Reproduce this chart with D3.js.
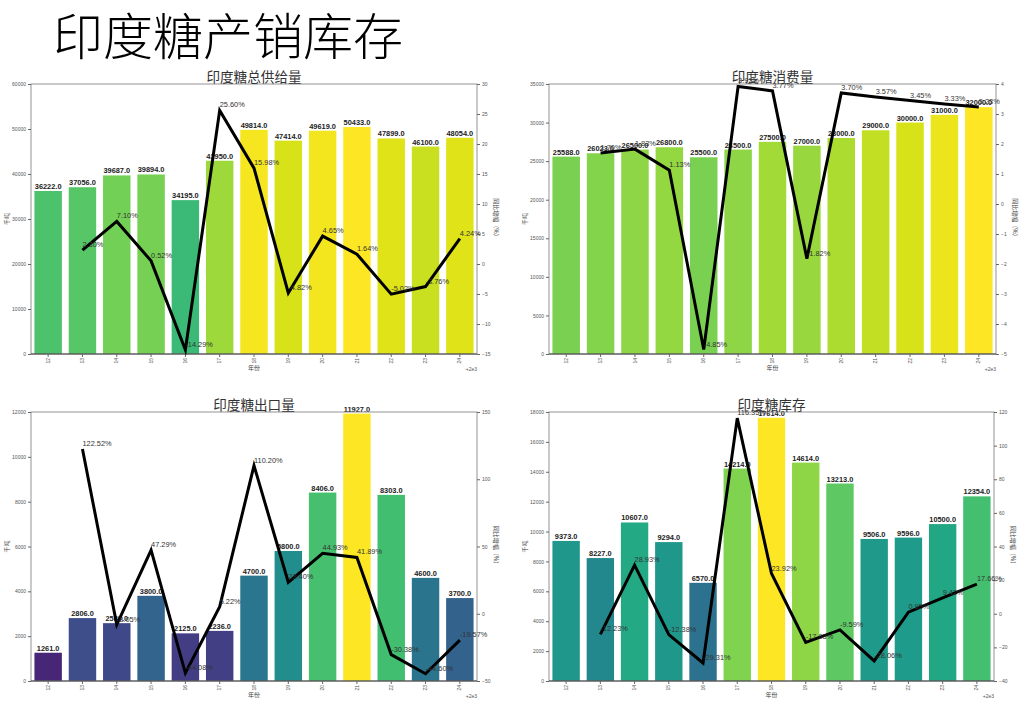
<!DOCTYPE html>
<html>
<head>
<meta charset="utf-8">
<script src="https://cdn.jsdelivr.net/npm/d3@7/dist/d3.min.js"></script>
<style>
  body { margin: 0; background: #fff; }
  svg { display: block; }
  .num { font-family: "Liberation Sans", Arial, sans-serif; }
  .cjk { font-family: "Noto Sans CJK SC", sans-serif; }
</style>
</head>
<body>
<div id="chart"></div>
<script>
// years 2012..2024, ticks shown as offset from 2e3
var yearTicks = ["12","13","14","15","16","17","18","19","20","21","22","23","24"];

var supplyVals = [36222, 37056, 39687, 39894, 34195, 42950, 49814, 47414, 49619, 50433, 47899, 46100, 48054];
var supplyPct  = [null, 2.30, 7.10, 0.52, -14.29, 25.60, 15.98, -4.82, 4.65, 1.64, -5.02, -3.76, 4.24];

var consumeVals = [25588, 26023, 26500, 26800, 25500, 26500, 27500, 27000, 28000, 29000, 30000, 31000, 32000];
var consumePct  = [null, 1.70, 1.83, 1.13, -4.85, 3.92, 3.77, -1.82, 3.70, 3.57, 3.45, 3.33, 3.23];

var exportVals = [1261, 2806, 2580, 3800, 2125, 2236, 4700, 5800, 8406, 11927, 8303, 4600, 3700];
var exportPct  = [null, 122.52, -8.05, 47.29, -44.08, 5.22, 110.20, 23.40, 44.93, 41.89, -30.38, -44.60, -19.57];

var stockVals = [9373, 8227, 10607, 9294, 6570, 14214, 17614, 14614, 13213, 9506, 9596, 10500, 12354];
var stockPct  = [null, -12.23, 28.93, -12.38, -29.31, 116.35, 23.92, -17.03, -9.59, -28.06, 0.95, 9.42, 17.66];

var panels = [
  {title: "印度糖总供给量", vals: supplyVals, pct: supplyPct, x0: 31, x1: 477, y0: 84, y1: 354,
   left: [0, 60000, 10000], right: [-15, 30, 5]},
  {title: "印度糖消费量", vals: consumeVals, pct: consumePct, x0: 549, x1: 996, y0: 84, y1: 354,
   left: [0, 35000, 5000], right: [-5, 4, 1]},
  {title: "印度糖出口量", vals: exportVals, pct: exportPct, x0: 31, x1: 477, y0: 412, y1: 681,
   left: [0, 12000, 2000], right: [-50, 150, 50]},
  {title: "印度糖库存", vals: stockVals, pct: stockPct, x0: 549, x1: 994, y0: 412, y1: 681,
   left: [0, 18000, 2000], right: [-40, 120, 20]}
];

var svg = d3.select("#chart")
  .append("svg")
  .attr("width", 1024)
  .attr("height", 715);

svg.append("text")
  .attr("class", "cjk")
  .attr("x", 53)
  .attr("y", 55)
  .attr("font-size", 50)
  .attr("font-weight", 300)
  .attr("fill", "#000")
  .text("印度糖产销库存");

function range3(r) {
  return d3.range(r[0], r[1] + r[2] / 2, r[2]);
}

function drawPanel(p) {
  var g = svg.append("g");
  var max = d3.max(p.vals);

  var x = d3.scaleBand()
    .domain(yearTicks)
    .range([p.x0, p.x1])
    .paddingInner(0.2)
    .paddingOuter(0.1);

  var y = d3.scaleLinear().domain([p.left[0], p.left[1]]).range([p.y1, p.y0]);
  var y2 = d3.scaleLinear().domain([p.right[0], p.right[1]]).range([p.y1, p.y0]);

  // bars coloured by value / max
  g.selectAll(".bar")
    .data(p.vals)
    .enter().append("rect")
    .attr("class", "bar")
    .attr("x", function(d, i) { return x(yearTicks[i]); })
    .attr("width", x.bandwidth())
    .attr("y", function(d) { return y(d); })
    .attr("height", function(d) { return y(0) - y(d); })
    .attr("fill", function(d) { return d3.interpolateViridis(d / max); });

  g.selectAll(".blabel")
    .data(p.vals)
    .enter().append("text")
    .attr("class", "num blabel")
    .attr("x", function(d, i) { return x(yearTicks[i]) + x.bandwidth() / 2; })
    .attr("y", function(d) { return y(d) - 2; })
    .attr("text-anchor", "middle")
    .attr("font-size", 7.4)
    .attr("font-weight", "bold")
    .attr("fill", "#222")
    .text(function(d) { return d.toFixed(1); });

  // frame
  g.append("rect")
    .attr("x", p.x0).attr("y", p.y0)
    .attr("width", p.x1 - p.x0).attr("height", p.y1 - p.y0)
    .attr("fill", "none")
    .attr("stroke", "#888")
    .attr("stroke-width", 0.9);
  g.append("line")
    .attr("x1", p.x0).attr("x2", p.x1)
    .attr("y1", p.y1).attr("y2", p.y1)
    .attr("stroke", "#444").attr("stroke-width", 1);

  // left axis
  var axL = g.append("g")
    .attr("transform", "translate(" + p.x0 + ",0)")
    .call(d3.axisLeft(y).tickValues(range3(p.left)).tickSize(3).tickPadding(2).tickFormat(d3.format("d")));
  // right axis
  var axR = g.append("g")
    .attr("transform", "translate(" + p.x1 + ",0)")
    .call(d3.axisRight(y2).tickValues(range3(p.right)).tickSize(3).tickPadding(2).tickFormat(d3.format("d")));
  // bottom axis
  var axB = g.append("g")
    .attr("transform", "translate(0," + p.y1 + ")")
    .call(d3.axisBottom(x).tickSize(3).tickPadding(2));
  axB.selectAll("text")
    .attr("transform", "rotate(-90)")
    .attr("text-anchor", "end")
    .attr("dy", "0.32em")
    .attr("x", -4)
    .attr("y", 0);

  [axL, axR, axB].forEach(function(a) {
    a.select(".domain").remove();
    a.selectAll("line").attr("stroke", "#666");
    a.selectAll("text").attr("class", "num").attr("font-size", 5).attr("fill", "#555");
  });

  // axis labels
  g.append("text")
    .attr("class", "cjk")
    .attr("x", (p.x0 + p.x1) / 2)
    .attr("y", p.y1 + 16)
    .attr("text-anchor", "middle")
    .attr("font-size", 6)
    .attr("fill", "#444")
    .text("年份");
  g.append("text")
    .attr("class", "num")
    .attr("x", p.x1)
    .attr("y", p.y1 + 17)
    .attr("text-anchor", "end")
    .attr("font-size", 5)
    .attr("fill", "#555")
    .text("+2e3");
  g.append("text")
    .attr("class", "cjk")
    .attr("transform", "translate(" + (p.x0 - 22) + "," + ((p.y0 + p.y1) / 2) + ") rotate(-90)")
    .attr("text-anchor", "middle")
    .attr("font-size", 6)
    .attr("fill", "#444")
    .text("千吨");
  g.append("text")
    .attr("class", "cjk")
    .attr("transform", "translate(" + (p.x1 + 17) + "," + ((p.y0 + p.y1) / 2) + ") rotate(90)")
    .attr("text-anchor", "middle")
    .attr("font-size", 6)
    .attr("fill", "#444")
    .text("同比增幅（%）");

  // growth line
  var pts = p.pct.map(function(v, i) { return {i: i, v: v}; })
    .filter(function(d) { return d.v !== null; });

  var line = d3.line()
    .x(function(d) { return x(yearTicks[d.i]) + x.bandwidth() / 2; })
    .y(function(d) { return y2(d.v); });

  g.append("path")
    .datum(pts)
    .attr("d", line)
    .attr("fill", "none")
    .attr("stroke", "#000")
    .attr("stroke-width", 3)
    .attr("stroke-linejoin", "miter");

  g.selectAll(".plabel")
    .data(pts)
    .enter().append("text")
    .attr("class", "num plabel")
    .attr("x", function(d) { return x(yearTicks[d.i]) + x.bandwidth() / 2; })
    .attr("y", function(d) { return y2(d.v) - 3; })
    .attr("font-size", 7.4)
    .attr("fill", "#333")
    .text(function(d) { return d.v.toFixed(2) + "%"; });

  // subplot title
  g.append("text")
    .attr("class", "cjk")
    .attr("x", (p.x0 + p.x1) / 2)
    .attr("y", p.y0 - 2)
    .attr("text-anchor", "middle")
    .attr("font-size", 13.6)
    .attr("fill", "#333")
    .text(p.title);
}

panels.forEach(drawPanel);
</script>
</body>
</html>
